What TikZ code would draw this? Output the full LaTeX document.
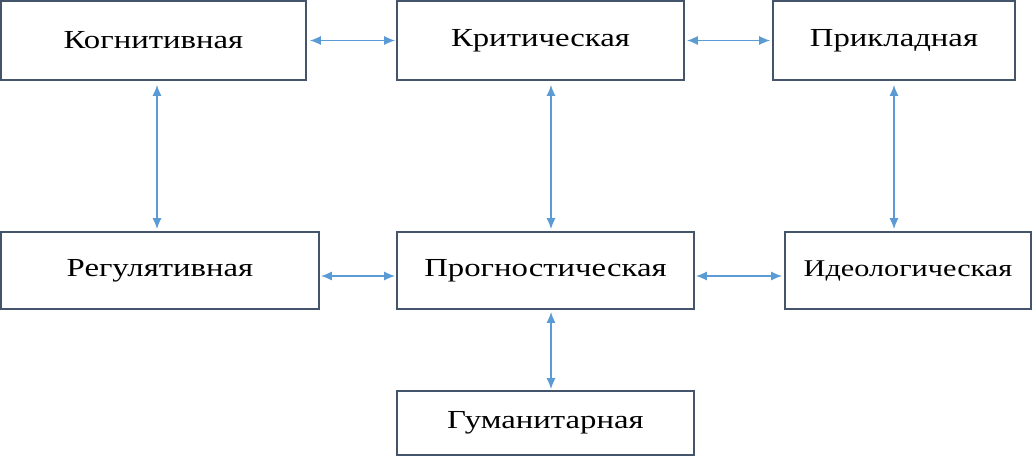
\documentclass[tikz,border=0pt]{standalone}
\usepackage{fontspec}
\setmainfont[FakeStretch=1.26]{Liberation Serif}
\usetikzlibrary{arrows.meta}
\definecolor{boxline}{HTML}{44546A}
\definecolor{linkblue}{HTML}{5B9BD5}
\tikzset{
	func/.style={draw=boxline, line width=0.9pt, fill=white, inner sep=0pt, font=\fontsize{13}{15}\selectfont},
	link/.style={draw=linkblue, line width=0.65pt, {Latex[length=5.5pt,width=4.5pt]}-{Latex[length=5.5pt,width=4.5pt]}}
}

\begin{document}
\begin{tikzpicture}[x=0.5pt, y=-0.5pt]
		%%%%% START %%%%%
		\useasboundingbox (0,0) rectangle (1032,456);
		
		\node[func, minimum width=152.5pt, minimum height=39.5pt] (kog) at (153.5, 40.5) {Когнитивная};
		\node[func, minimum width=143.5pt, minimum height=39.5pt] (krit) at (540.5, 40.5) {Критическая};
		\node[func, minimum width=121pt, minimum height=39.5pt] (prik) at (894, 40.5) {Прикладная};
		
		\node[func, minimum width=159pt, minimum height=38.5pt] (reg) at (160, 270.5) {Регулятивная};
		\node[func, minimum width=148.5pt, minimum height=38.5pt] (prog) at (545.5, 270.5) {Прогностическая};
		\node[func, minimum width=123pt, minimum height=38.5pt, font=\fontsize{12}{14}\selectfont] (ideo) at (908, 270.5) {Идеологическая};
		
		\node[func, minimum width=148.5pt, minimum height=32pt] (gum) at (545.5, 423) {Гуманитарная};
		
		% top row
		\draw[link, shorten <=1.5pt, shorten >=0.5pt] (kog.east) -- (krit.west);
		\draw[link, shorten <=1pt, shorten >=1pt] (krit.east) -- (prik.west);
		
		% columns
		\draw[link, shorten <=2pt, shorten >=1pt] ([xshift=1.75pt]kog.south) -- ([xshift=1.75pt]kog.south |- reg.north);
		\draw[link, shorten <=2pt, shorten >=1pt] ([xshift=5.25pt]krit.south) -- ([xshift=5.25pt]krit.south |- prog.north);
		\draw[link, shorten <=2pt, shorten >=1pt] (prik.south) -- (prik.south |- ideo.north);
		
		% middle row
		\draw[link, shorten <=0.5pt, shorten >=0.5pt] ([yshift=-2.75pt]reg.east) -- ([yshift=-2.75pt]prog.west);
		\draw[link, shorten <=0.5pt, shorten >=1pt] ([yshift=-2.75pt]prog.east) -- ([yshift=-2.75pt]ideo.west);
		
		% bottom
		\draw[link, shorten <=1pt, shorten >=0.5pt] ([xshift=2.75pt]prog.south) -- ([xshift=2.75pt]prog.south |- gum.north);
		%%%%% END %%%%%
\end{tikzpicture}
\end{document}
